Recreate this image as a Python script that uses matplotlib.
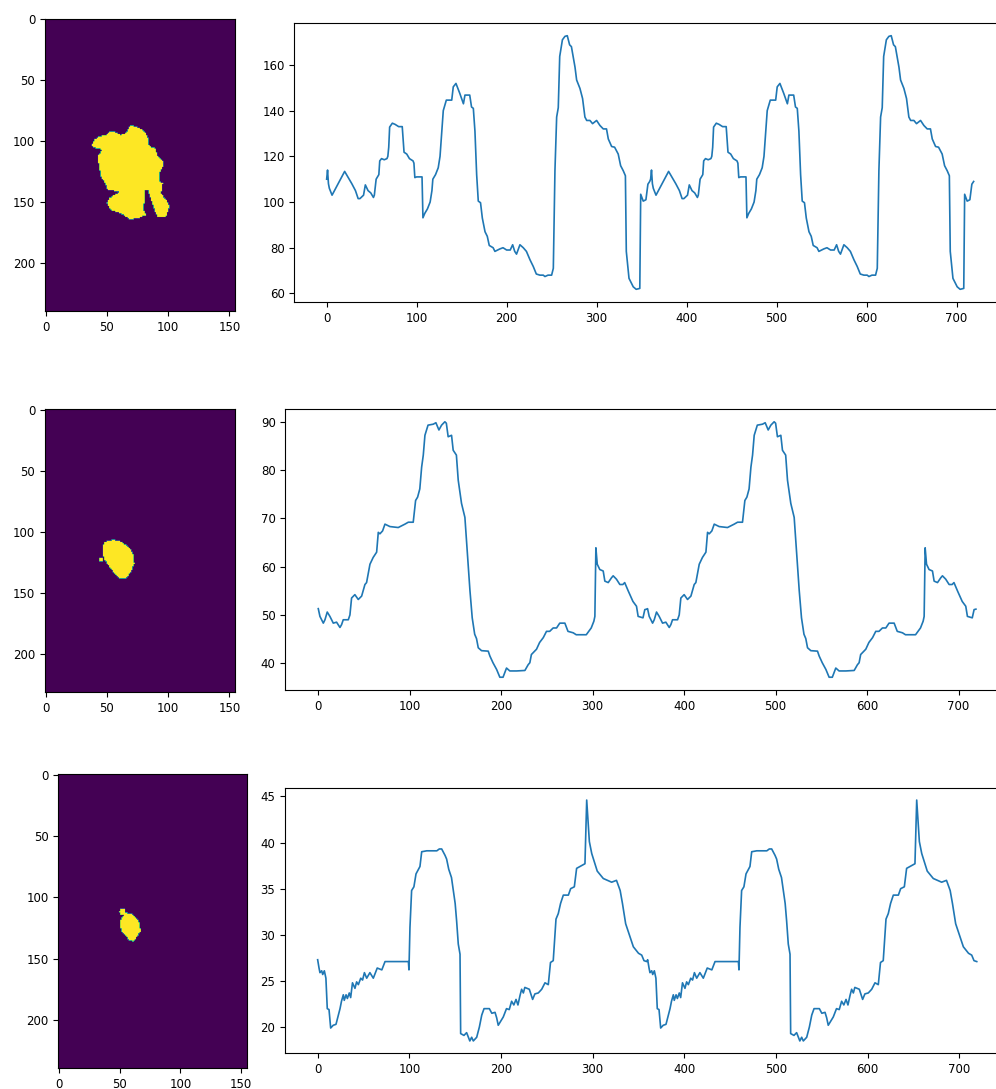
## mask + radial profile plots, 3 cells

import numpy as np
import matplotlib
matplotlib.use("Agg")
import matplotlib.pyplot as plt
from matplotlib.path import Path

# ---- data ----
# mask size (rows, cols)
shape1 = (240, 155)
shape2 = (232, 155)
shape3 = (240, 155)

# blob outlines (col, row)
blob1 = [(69.3, 87.7), (73.4, 88.2), (80.2, 92.3), (82.9, 96.4), (84.2, 104.7), (88.9, 106),
         (91, 112.9), (95.1, 117), (95.1, 121), (92.4, 126.6), (92.4, 133.4), (95.1, 134.8),
         (93.8, 143), (97.8, 148.5), (100.5, 154), (97.8, 162.2), (91, 162.2), (88.3, 156.7),
         (85.6, 148.5), (82.9, 140.3), (80.7, 140.3), (80.2, 148.5), (79.6, 156.7), (81.5, 160.8),
         (74.7, 163.6), (67.9, 164.4), (65.2, 162.2), (61.1, 159.5), (53, 156.7), (49.7, 151.2),
         (51.6, 147), (58.4, 143), (59.8, 141.6), (50.3, 140.3), (47.6, 133.4), (44.8, 129.3),
         (43.5, 121), (42.1, 112.9), (44.8, 108.8), (46.2, 107.4), (40.8, 106), (37.2, 104.7),
         (39.4, 99.2), (43.5, 96.4), (48.9, 95.1), (53, 92.3), (57.1, 93.2), (61.1, 95.1),
         (65.2, 93.7), (67.9, 88.2)]
blob2 = [(55.7, 106.8), (61.1, 108.2), (65.2, 111), (69.3, 115), (71.5, 119.2), (72, 126),
         (70.1, 131.5), (66.6, 137), (63.9, 138.9), (59.8, 138.4), (55.7, 134.2), (51.6, 128.8),
         (48.1, 123.3), (46.2, 117.8), (46.2, 112.3), (47.6, 109), (50.3, 107.4)]
blob2_dot = [(43.6, 121.6), (46.0, 121.6), (46.0, 124.8), (43.6, 124.8)]
blob3 = [(54.9, 112.7), (60.4, 113.8), (64.5, 118.1), (66.7, 122), (67.2, 128.2), (64.5, 131.8),
         (61.7, 136.4), (57.6, 135.1), (54.9, 131), (51.3, 127.4), (50.2, 121.4), (51.3, 117.3),
         (53.5, 114.6)]
blob3_dot = [(50.5, 110.0), (52.5, 108.8), (54.5, 110.0), (54.8, 112.5), (53.0, 114.5),
             (51.0, 114.0), (50.0, 112.0)]

# radial profiles, one turn (angle, radius); the plot shows two turns
ang1 = [0, 1, 2, 3, 6, 20, 25, 28, 32, 35, 37, 41, 43, 46, 49, 52, 53, 55, 58, 59, 61, 64, 67,
        68, 69, 70, 73, 76, 80, 84, 86, 89, 92, 96, 97, 98, 100, 106, 107, 109, 112, 115, 117,
        118, 121, 124, 126, 129.6, 133, 139, 140.7, 143.7, 148, 152, 153.7, 159, 161, 163,
        164.8, 166.7, 168.5, 171, 173, 176, 178.5, 180.7, 185, 187, 192.6, 196, 200, 204,
        206.7, 209, 211, 214.8, 218.5, 222, 226, 229.6, 233, 237, 240.7, 242.6, 246, 250,
        251.9, 253.7, 255.6, 257.4, 259, 262, 264.8, 267.4, 270, 272, 276, 277.8, 281.5,
        284.4, 287, 289, 292.6, 295.5, 300, 303.7, 307.4, 311, 313, 316.7, 320, 324, 326.7,
        329.6, 332, 333, 336, 340.7, 344, 348, 349, 351.8, 354.8, 357, 359]
rad1 = [110, 114, 108, 106, 103, 113.4, 110, 108, 105, 101.5, 101.5, 103, 107.5, 105, 104, 102,
        103, 110, 112, 118, 119, 118.5, 119, 120, 124, 132.8, 134.5, 134, 133, 133, 121.8, 121,
        119, 118, 117, 110.7, 111, 111, 93.1, 95, 97, 100, 105, 110, 112, 115, 120, 140, 144.6,
        144.6, 150.4, 151.9, 147.5, 143, 146.8, 146.8, 141.6, 141, 131, 112, 100.4, 99.7, 93, 87,
        85, 81, 80, 78.4, 79.5, 80, 79, 79, 81.3, 78.4, 77.2, 81.3, 80, 78.4, 74.7, 71.8, 68.5,
        68, 68, 67.4, 68, 68, 71, 113.7, 137.2, 141.3, 163.7, 171, 172.5, 172.8, 168.8, 168,
        159, 153.4, 149.7, 145.3, 137.2, 135.7, 135.7, 134.3, 135.7, 133.5, 132, 132, 127.6,
        124.3, 124, 121, 115.9, 113.7, 111.5, 78.4, 66.6, 62.9, 61.8, 62.2, 103.4, 100.4, 101,
        107.8, 109]

ang2 = [0, 1.8, 5.5, 7.3, 9.8, 12.7, 16.4, 20, 23.7, 25.5, 27.3, 32.8, 34.6, 36.4, 40, 43.7,
        47.4, 51, 52.8, 56.5, 60, 63.8, 65.6, 67.4, 70.3, 72.9, 78.3, 87.4, 94.7, 98.4, 103.8,
        106.4, 108.6, 111, 113, 114.8, 116.6, 120, 125.7, 128.6, 131.9, 134.8, 138.4, 140, 142,
        145.7, 147.5, 151, 153, 156.6, 160.3, 162, 165.8, 168.3, 171, 173, 174.9, 178.5, 185.8,
        187.6, 191, 195, 198.5, 202, 205.8, 209.4, 216.8, 225.9, 229.5, 231.3, 233, 238.6, 242,
        246, 249.5, 253, 256.8, 260.5, 264, 269.6, 273, 278.7, 282, 293, 298.4, 301.3, 302.4,
        303.5, 305, 307.8, 311.5, 313.3, 317, 320.6, 322.4, 326, 329.7, 333, 335, 338.8, 344,
        347.9, 349.7, 355, 357, 359]
rad2 = [51.3, 49.7, 48.3, 49, 50.6, 49.7, 48.3, 48.5, 47.4, 48, 49, 49, 50, 53.5, 54.2, 53.2,
        53.9, 56.3, 56.7, 60.5, 61.9, 63, 67.1, 66.8, 67.4, 68.8, 68.3, 68.1, 68.8, 69.2, 69.2,
        73.7, 74.4, 76.1, 80.6, 83.1, 87.2, 89.3, 89.5, 89.8, 88.3, 89.3, 90, 89.7, 86.9, 87.2,
        84.1, 83.1, 77.9, 73.1, 70.2, 65.5, 55.1, 49.4, 46, 45.1, 43.2, 42.6, 42.5, 41.5, 40.1,
        38.7, 37.1, 37.1, 39, 38.4, 38.4, 38.5, 39.7, 40.1, 41.8, 42.9, 44.3, 45.3, 46.6, 46.6,
        47.3, 47.3, 48.3, 48.3, 46.6, 46.3, 45.9, 45.9, 47.3, 48.7, 49.7, 63.9, 60.5, 59.4, 59.1,
        57, 56.7, 57.7, 58.1, 57.4, 56.3, 56.3, 56.7, 55, 52.8, 51.8, 49.7, 49.4, 51.1, 51.2]

ang3 = [0, 1.5, 2.5, 4.4, 5.5, 7.3, 9, 10.5, 12.4, 14.2, 17, 20, 24.4, 26, 28, 29, 31, 32.4,
        34.5, 36, 38, 40.7, 42.5, 44.4, 47, 49, 51, 53.5, 57, 60.7, 65, 70, 73.5, 79, 99, 99.6,
        100.7, 102.5, 105, 107.3, 111.6, 113.5, 119, 130, 132.7, 135.3, 139, 140.7, 143, 146,
        150, 151.6, 153.4, 155.3, 156, 159.6, 162.5, 164.4, 166, 168, 169.8, 173.5, 176.4, 179,
        181.5, 187.3, 190, 193.5, 195.3, 197, 202.5, 206, 209, 211.6, 214, 216.4, 218.5, 220.7,
        222.5, 224.4, 226, 230.9, 234.5, 237, 240.7, 244.4, 248, 251.6, 254, 257, 260, 262.5,
        265, 268, 273.5, 276, 280, 282.5, 286.2, 290, 291.6, 293.5, 296.4, 299, 302.5, 305,
        311.6, 320.7, 326, 330, 332.5, 336, 340.7, 344.4, 350, 353.5, 356, 359]
rad3 = [27.3, 26.4, 25.9, 26.1, 25.7, 26.1, 25.3, 22, 21.9, 19.9, 20.2, 20.3, 22, 22.8, 23.5,
        22.9, 23.5, 23.1, 23.7, 23.2, 24.8, 24.2, 24.9, 24.6, 25.3, 25.1, 25.9, 25.3, 25.9, 25.3,
        26.4, 26.2, 27.1, 27.1, 27.1, 26.2, 30.8, 34.8, 35.2, 36.6, 37.4, 39, 39.1, 39.1, 39.3,
        39.3, 38.6, 38.2, 37.1, 36.2, 33.4, 31.5, 29, 27.9, 19.3, 19.1, 19.4, 18.9, 18.5, 18.9,
        18.5, 18.9, 20, 21.3, 22, 22, 21.5, 21.6, 21, 20.2, 21.1, 22, 21.9, 22.8, 22.4, 23, 22.4,
        23.4, 24.1, 23.7, 24.3, 24.1, 23, 23.6, 23.7, 24.1, 24.8, 24.6, 27, 27.2, 31.7, 32.3,
        33.4, 34.3, 34.3, 35, 35.2, 37.2, 37.4, 37.6, 37.7, 44.6, 40.1, 38.8, 37.7, 36.9, 36.1,
        35.7, 35.9, 34.8, 33.4, 31.2, 29.8, 28.7, 28, 27.8, 27.2, 27.1]


def make_mask(shape, polys):
    rows, cols = shape
    yy, xx = np.mgrid[0:rows, 0:cols]
    pts = np.column_stack([xx.ravel(), yy.ravel()])
    m = np.zeros(rows * cols, dtype=bool)
    for p in polys:
        m |= Path(p).contains_points(pts)
    return m.reshape(rows, cols).astype(float)


def two_turns(ang, rad):
    a = np.asarray(ang, dtype=float)
    r = np.asarray(rad, dtype=float)
    return np.concatenate([a, a + 360]), np.concatenate([r, r])


W, H = 996, 1089
fig = plt.figure(figsize=(W / 100, H / 100), dpi=100)
plt.rcParams['font.size'] = 8.5


def box(l, t, r, b):
    return [l / W, 1 - b / H, (r - l) / W, (b - t) / H]


cells = [
    (shape1, [blob1], ang1, rad1, box(45, 18.7, 235, 310.8), box(294.3, 23, 1006, 302)),
    (shape2, [blob2, blob2_dot], ang2, rad2, box(45, 409.4, 235, 692), box(285.4, 409, 1008.8, 690)),
    (shape3, [blob3, blob3_dot], ang3, rad3, box(58.3, 774.4, 246.7, 1068), box(284.7, 788, 1009.7, 1053)),
]

for shape, polys, ang, rad, ibox, lbox in cells:
    axi = fig.add_axes(ibox)
    axi.imshow(make_mask(shape, polys), cmap='viridis', aspect='auto',
               interpolation='hanning', interpolation_stage='data')
    axi.set_xticks([0, 50, 100, 150])
    axi.set_yticks([0, 50, 100, 150, 200])

    axl = fig.add_axes(lbox)
    x, y = two_turns(ang, rad)
    axl.plot(x, y, color='#1f77b4', lw=1.2)
    axl.set_xticks(range(0, 800, 100))

fig.savefig('out.png', dpi=100)
